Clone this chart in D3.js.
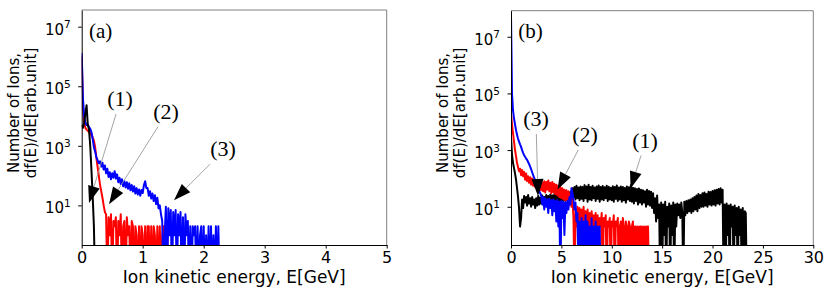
<!DOCTYPE html>
<html><head><meta charset="utf-8">
<script src="https://cdn.jsdelivr.net/npm/d3@7"></script>
<style>body{margin:0;background:#fff}svg{display:block}</style>
</head><body>
<svg id="c" width="830" height="295"></svg>
<script>
// ---------- data ----------
// panel (a): bin width 0.02 GeV, values start at E = 0
const stepA = 0.02;
const blackA = [5000, 4000, 6000, 12000, 23000, 5000, 3500, 1000, 150, 20, 2, 0];
const redA = [1e6, 2e4, 6000, 4000, 3500, 3200, 2900, 2600, 2300, 1900,
  1500, 900, 400, 200, 100, 50, 30, 18, 10, 6,
  5, 0, 4, 1, 5, 0, 3, 2, 4, 0,
  3, 1, 5, 0, 2, 3, 0, 4, 1, 2,
  0, 3, 2, 0, 2, 1, 0, 2, 0, 2,
  1, 0, 2, 0, 2, 2, 0, 2, 0, 2,
  1, 0, 2, 0, 2, 0, 1, 2, 0, 2,
  2, 0];
const blueA = [1.3e6, 4e4, 1e4, 6000, 5000, 5200, 4300, 3700, 2900, 1700,
  900, 650, 420, 330, 260, 300, 200, 270, 160, 220,
  120, 170, 90, 130, 75, 120, 85, 140, 80, 110,
  60, 85, 52, 75, 44, 65, 40, 60, 36, 55,
  32, 48, 29, 44, 25, 38, 23, 34, 21, 33,
  26, 48, 65, 38, 38, 21, 30, 17, 25, 14,
  22, 11, 18, 8, 10, 5, 3, 0, 1, 9,
  0, 8, 1, 7, 0, 6, 1, 7, 0, 5,
  1, 6, 0, 4, 0, 5, 1, 3, 0, 2,
  0, 2, 1, 2, 0, 2, 0, 1, 2, 0,
  2, 0, 1, 0, 2, 0, 2, 0, 1, 0,
  2, 0, 2, 0];

// panel (b): bin width 0.1 GeV, values start at E = 0
const stepB = 0.1;
const blackB = [3000, 700, 350, 230, 150, 90, 45, 22, 9, 2,
  4, 18, 9, 24, 14, 22, 11, 26, 13, 20,
  10, 22, 12, 18, 9, 20, 11, 24, 12, 21,
  13, 25, 12, 22, 14, 26, 13, 24, 15, 27,
  14, 25, 16, 28, 15, 26, 14, 27, 16, 29,
  15, 28, 17, 30, 16, 29, 18, 32, 17, 34,
  20, 45, 22, 50, 18, 55, 20, 48, 17, 52,
  19, 50, 16, 58, 20, 52, 15, 60, 18, 50,
  17, 55, 20, 48, 16, 52, 19, 56, 15, 50,
  18, 54, 17, 49, 20, 55, 16, 51, 18, 47,
  17, 53, 15, 50, 19, 56, 16, 48, 18, 52,
  15, 50, 17, 46, 14, 52, 18, 49, 16, 58,
  15, 47, 13, 45, 16, 42, 12, 44, 14, 40,
  12, 38, 14, 35, 10, 40, 12, 36, 11, 34,
  9, 30, 6, 20, 3, 25, 4, 12, 0, 14,
  0, 12, 1, 15, 0, 10, 2, 13, 0, 11,
  1, 14, 0, 12, 2, 13, 5, 12, 4, 14,
  6, 0, 15, 5, 16, 6, 17, 7, 18, 6,
  20, 7, 22, 8, 25, 7, 28, 9, 26, 10,
  30, 10, 32, 11, 28, 10, 34, 12, 33, 11,
  36, 12, 38, 11, 40, 13, 42, 12, 45, 14,
  40, 0, 12, 0, 13, 1, 11, 0, 12, 2,
  10, 0, 11, 1, 9, 0, 10, 1, 8, 0,
  9, 0, 7, 6, 0];
const redB = [2e4, 8000, 4000, 2000, 1000, 600, 350, 250, 180, 220,
  130, 200, 120, 170, 90, 150, 80, 120, 70, 110,
  60, 100, 55, 90, 50, 85, 45, 80, 40, 75,
  38, 70, 35, 80, 32, 75, 40, 85, 35, 70,
  30, 75, 33, 65, 28, 60, 25, 55, 22, 50,
  20, 45, 18, 40, 17, 38, 15, 35, 12, 30,
  10, 20, 4, 0, 8, 2, 10, 0, 9, 1,
  8, 0, 10, 2, 7, 0, 8, 1, 6, 0,
  7, 2, 5, 0, 6, 1, 5, 0, 4, 2,
  6, 0, 4, 2, 5, 0, 3, 2, 4, 0,
  3, 2, 5, 0, 3, 2, 4, 0, 2, 3,
  0, 4, 2, 0, 3, 2, 0, 3, 2, 0,
  2, 3, 0, 2, 2, 0, 2, 0, 2, 2,
  0, 2, 0, 2, 0, 2, 2, 0];
const blueB = [6e7, 1e5, 2.5e4, 1.3e4, 8000, 5000, 3500, 2500, 2000, 1600,
  1300, 1000, 800, 660, 580, 500, 450, 380, 320, 260,
  210, 165, 130, 105, 85, 70, 56, 45, 35, 30,
  25, 12, 22, 8, 20, 10, 18, 6, 19, 9,
  17, 5, 18, 7, 16, 3, 17, 2, 15, 0,
  16, 4, 15, 1, 14, 6, 16, 8, 22, 12,
  45, 30, 18, 8, 14, 3, 6, 0, 3, 0,
  4, 0, 3, 0, 5, 0, 3, 0, 2, 0,
  4, 0, 2, 0, 3, 0, 2, 0, 2, 0];

const xTicksA = [0, 1, 2, 3, 4, 5];
const xTicksB = [0, 5, 10, 15, 20, 25, 30];
const yTicks = [1e1, 1e3, 1e5, 1e7];
const yTickExponents = ["1", "3", "5", "7"];
const xLabel = "Ion kinetic energy, E[GeV]";
const yLabelLines = ["Number of Ions,", "df(E)/dE[arb.unit]"];
const panelNames = ["(a)", "(b)"];
const annotLabelsA = ["(1)", "(2)", "(3)"];
const annotTextE_A = [0.628, 1.382, 2.316];
const annotTextV_A = [3.2e4, 1.17e4, 660];
const annotTipE_A = [0.12, 0.448, 1.513];
const annotTipV_A = [12, 11, 15];
const annotLabelsB = ["(3)", "(2)", "(1)"];
const annotTextE_B = [2.48, 7.35, 13.31];
const annotTextV_B = [1.07e4, 2900, 1860];
const annotTipE_B = [2.68, 4.62, 11.87];
const annotTipV_B = [24, 41, 44];

// ---------- layout ----------
const panels = [
  {name: panelNames[0], step: stepA, series: [redA, blueA, blackA],
   colors: ["#ff0000", "#0000ff", "#000000"],
   xDomain: [0, 5], xTicks: xTicksA, yDomain: [Math.pow(10, -0.33), Math.pow(10, 7.56)],
   left: 81.7, right: 386.7, top: 10, bottom: 245,
   annots: annotLabelsA.map((l, i) => ({l, tx: annotTextE_A[i], ty: annotTextV_A[i], ex: annotTipE_A[i], ey: annotTipV_A[i]}))},
  {name: panelNames[1], step: stepB, series: [blackB, redB, blueB],
   colors: ["#000000", "#ff0000", "#0000ff"],
   xDomain: [0, 30], xTicks: xTicksB, yDomain: [Math.pow(10, -0.35), Math.pow(10, 7.92)],
   left: 511, right: 813.3, top: 10.7, bottom: 245,
   annots: annotLabelsB.map((l, i) => ({l, tx: annotTextE_B[i], ty: annotTextV_B[i], ex: annotTipE_B[i], ey: annotTipV_B[i]}))}
];

const SANS = "'DejaVu Sans', sans-serif";
const SERIF = "'Liberation Serif', 'Times New Roman', serif";
const svg = d3.select("#c");

panels.forEach((p, pi) => {
  const x = d3.scaleLinear().domain(p.xDomain).range([p.left, p.right]);
  const y = d3.scaleLog().domain(p.yDomain).range([p.bottom, p.top]);
  const cid = "clip" + pi;
  svg.append("clipPath").attr("id", cid).append("rect")
    .attr("x", p.left).attr("y", p.top)
    .attr("width", p.right - p.left).attr("height", p.bottom - p.top);

  const g = svg.append("g").attr("clip-path", `url(#${cid})`);
  p.series.forEach((s, k) => {
    const line = d3.line()
      .x((d, i) => x(i * p.step))
      .y(d => d > 0 ? y(d) : p.bottom + 40);
    g.append("path").attr("d", line(s))
      .attr("fill", "none").attr("stroke", p.colors[k])
      .attr("stroke-width", 2).attr("stroke-linejoin", "round");
  });

  // top / right spines
  svg.append("line").attr("x1", p.left).attr("x2", p.right).attr("y1", p.top).attr("y2", p.top)
    .attr("stroke", "#808080").attr("stroke-width", 1);
  svg.append("line").attr("x1", p.right).attr("x2", p.right).attr("y1", p.top).attr("y2", p.bottom)
    .attr("stroke", "#808080").attr("stroke-width", 1);

  // x axis
  const gx = svg.append("g").attr("transform", `translate(0,${p.bottom})`)
    .call(d3.axisBottom(x).tickValues(p.xTicks).tickFormat(d3.format("d"))
      .tickSize(3.5).tickPadding(3.5).tickSizeOuter(0));
  gx.select(".domain").attr("stroke", "#000").attr("stroke-width", 1);
  gx.selectAll(".tick line").attr("stroke", "#000");
  gx.selectAll(".tick text").attr("font-family", SANS).attr("font-size", 16).attr("fill", "#000");

  // y axis
  const gy = svg.append("g").attr("transform", `translate(${p.left},0)`)
    .call(d3.axisLeft(y).tickValues(yTicks).tickFormat(() => "")
      .tickSize(3.5).tickPadding(7.5).tickSizeOuter(0));
  gy.select(".domain").attr("stroke", "#000").attr("stroke-width", 1);
  gy.selectAll(".tick line").attr("stroke", "#000");
  gy.selectAll(".tick text").each(function(d, i) {
    const t = d3.select(this).attr("font-family", SANS).attr("font-size", 15)
      .attr("fill", "#000").attr("dy", "0.5em");
    t.append("tspan").text("10");
    t.append("tspan").attr("dy", -6.5).attr("font-size", 10.5).text(yTickExponents[i]);
  });

  // axis labels
  svg.append("text").attr("x", (p.left + p.right) / 2).attr("y", 282.5)
    .attr("text-anchor", "middle").attr("font-family", SANS).attr("font-size", 17)
    .attr("fill", "#000").text(xLabel);
  const cy = 113;
  [p.left - 62.7, p.left - 46.2].forEach((bx, li) => {
    svg.append("text").attr("transform", `translate(${bx},${cy}) rotate(-90)`)
      .attr("text-anchor", "middle").attr("font-family", SANS).attr("font-size", 15)
      .attr("fill", "#000").text(yLabelLines[li]);
  });

  // panel name
  svg.append("text").attr("x", p.left + 7.3).attr("y", 37.5)
    .attr("font-family", SERIF).attr("font-size", 21).attr("fill", "#000").text(p.name);

  // annotations
  p.annots.forEach(a => {
    const cx = x(a.tx), cyT = y(a.ty);
    const tx = x(a.ex), ty = y(a.ey);
    const dx = tx - cx, dy = ty - cyT;
    const len = Math.hypot(dx, dy);
    const ux = dx / len, uy = dy / len;
    const hw = 16, hh = 13;
    const tEdge = Math.min(Math.abs(hw / (ux || 1e-9)), Math.abs(hh / (uy || 1e-9)));
    const sx = cx + ux * tEdge, sy = cyT + uy * tEdge;
    const L = 17, W = 6;
    const bx = tx - ux * L, by = ty - uy * L;
    svg.append("line").attr("x1", sx).attr("y1", sy).attr("x2", bx).attr("y2", by)
      .attr("stroke", "#9a9a9a").attr("stroke-width", 0.9);
    const px = -uy, py = ux;
    svg.append("path")
      .attr("d", `M${tx},${ty}L${bx + px * W},${by + py * W}L${bx - px * W},${by - py * W}Z`)
      .attr("fill", "#000");
    svg.append("text").attr("x", cx).attr("y", cyT + 5.3).attr("text-anchor", "middle")
      .attr("font-family", SERIF).attr("font-size", 22).attr("fill", "#000").text(a.l);
  });
});
</script>
</body></html>
